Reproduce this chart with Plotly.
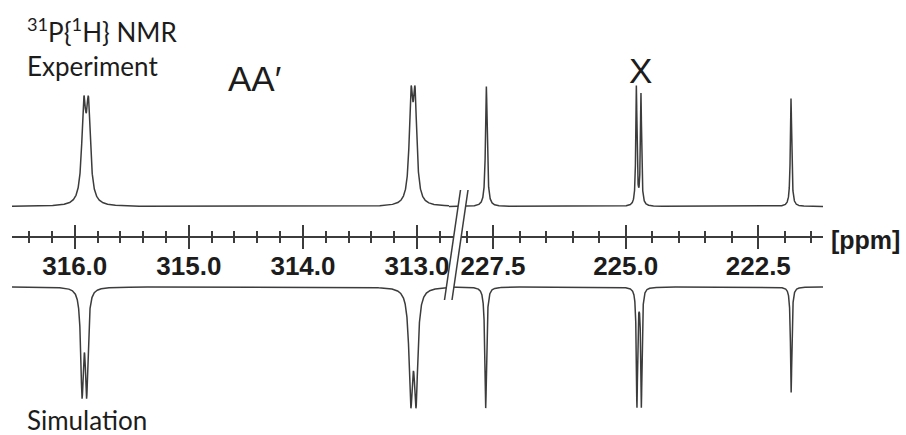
import numpy as np
import plotly.graph_objects as go

W, H = 906, 435

# --- peak tables (ppm, relative height, half width at half height in ppm) ---
# experimental 31P{1H} spectrum, AA' part (left window) and X part (right window)
exp_ppm_left = [315.921, 315.880, 313.053, 313.018]
exp_int_left = [0.76, 0.76, 0.82, 0.82]
exp_hw_left = [0.021, 0.021, 0.0186, 0.0186]

exp_ppm_right = [227.626, 224.798, 224.711, 221.883]
exp_int_right = [1.00, 0.99, 0.925, 0.90]
exp_hw_right = [0.019, 0.013, 0.013, 0.015]

# simulated spectrum (plotted downwards)
sim_ppm_left = [315.936, 315.896, 313.055, 313.009]
sim_int_left = [0.84, 0.84, 0.885, 0.885]
sim_hw_left = [0.0139, 0.0139, 0.0186, 0.0186]

sim_ppm_right = [227.638, 224.787, 224.704, 221.880]
sim_int_right = [1.01, 0.98, 0.98, 0.88]
sim_hw_right = [0.019, 0.0142, 0.0142, 0.015]

# axis windows (ppm) and ticks
left_range = [316.55, 312.72]
right_range = [228.33, 221.28]
left_major = [316.0, 315.0, 314.0, 313.0]
right_major = [227.5, 225.0, 222.5]
left_minor_step = 0.2
right_minor_step = 0.5

exp_offset = 0.25    # baseline of the experimental trace
sim_offset = -0.42   # baseline of the simulated trace
y_range = [-1.654, 1.971]

LINE = "#3c3c3c"
TEXT = "#1c1c1c"


def lorentz_sum(x, centers, heights, widths):
    y = np.zeros_like(x)
    for c, h, g in zip(centers, heights, widths):
        y += h / (1.0 + ((x - c) / g) ** 2)
    return y


def px(x):
    return x / W


def py(y):
    return 1 - y / H


xl = np.linspace(left_range[0], left_range[1], 6000)
xr = np.linspace(right_range[0], right_range[1], 9000)

fig = go.Figure()
line = dict(color=LINE, width=1.5)

fig.add_trace(go.Scatter(x=xl, y=exp_offset + lorentz_sum(xl, exp_ppm_left, exp_int_left, exp_hw_left),
                         mode="lines", line=line, xaxis="x", yaxis="y", hoverinfo="skip"))
fig.add_trace(go.Scatter(x=xl, y=sim_offset - lorentz_sum(xl, sim_ppm_left, sim_int_left, sim_hw_left),
                         mode="lines", line=line, xaxis="x", yaxis="y", hoverinfo="skip"))
fig.add_trace(go.Scatter(x=xr, y=exp_offset + lorentz_sum(xr, exp_ppm_right, exp_int_right, exp_hw_right),
                         mode="lines", line=line, xaxis="x2", yaxis="y", hoverinfo="skip"))
fig.add_trace(go.Scatter(x=xr, y=sim_offset - lorentz_sum(xr, sim_ppm_right, sim_int_right, sim_hw_right),
                         mode="lines", line=line, xaxis="x2", yaxis="y", hoverinfo="skip"))
# empty traces so the overlaid tick axes (upward ticks) get drawn
fig.add_trace(go.Scatter(x=[], y=[], xaxis="x3", yaxis="y", showlegend=False))
fig.add_trace(go.Scatter(x=[], y=[], xaxis="x4", yaxis="y", showlegend=False))

axis_y = 236.5
axis_pos = py(axis_y)
break_px = 449
left_dom = [px(12), px(break_px)]
right_dom = [px(break_px), px(823)]

tickfont = dict(family="Liberation Sans, Arial, sans-serif", size=26, color=TEXT, weight="bold")


def tick_axis(domain, rng, tick0, dtick, minor_step, ticks, labels, overlay=None, line_on=True):
    ax = dict(domain=domain, range=rng, anchor="free", position=axis_pos,
              showgrid=False, zeroline=False, showline=line_on, linecolor=LINE, linewidth=1.5,
              ticks=ticks, ticklen=12, tickwidth=1.5, tickcolor=LINE,
              tickmode="linear", tick0=tick0, dtick=dtick, tickformat=".1f",
              showticklabels=labels, tickfont=tickfont, ticklabelstandoff=-5,
              minor=dict(ticks=ticks, ticklen=5.5, tickwidth=1.5, tickcolor=LINE,
                         tick0=tick0, dtick=minor_step, showgrid=False),
              fixedrange=True)
    if overlay:
        ax["overlaying"] = overlay
    return ax


fig.update_layout(
    width=W, height=H, margin=dict(l=0, r=0, t=0, b=0),
    paper_bgcolor="white", plot_bgcolor="white", showlegend=False,
    xaxis=tick_axis(left_dom, left_range, left_major[0], 1.0, left_minor_step, "outside", True),
    xaxis2=tick_axis(right_dom, right_range, right_major[1], 2.5, right_minor_step, "outside", True),
    xaxis3=tick_axis(left_dom, left_range, left_major[0], 1.0, left_minor_step, "inside", False,
                     overlay="x", line_on=False),
    xaxis4=tick_axis(right_dom, right_range, right_major[1], 2.5, right_minor_step, "inside", False,
                     overlay="x2", line_on=False),
    yaxis=dict(domain=[0, 1], range=y_range, visible=False, fixedrange=True),
)

# axis break: white gap bounded by two slanted strokes
ax0, ay0, ax1, ay1 = 460.5, 190, 444.5, 300
gap = 7.5
fig.add_shape(type="path", xref="paper", yref="paper",
              path=f"M {px(ax0)} {py(ay0)} L {px(ax0 + gap)} {py(ay0)} L {px(ax1 + gap)} {py(ay1)} L {px(ax1)} {py(ay1)} Z",
              fillcolor="white", line=dict(width=0), layer="above")
for dx in (0, gap):
    fig.add_shape(type="line", xref="paper", yref="paper",
                  x0=px(ax0 + dx), y0=py(ay0), x1=px(ax1 + dx), y1=py(ay1),
                  line=dict(color=LINE, width=1.5), layer="above")

label_font = dict(family="Lato, Open Sans, sans-serif", size=26, color=TEXT)
big_font = dict(family="Liberation Sans, Arial, sans-serif", size=35, color=TEXT)

fig.add_annotation(x=px(25), y=py(31), xref="paper", yref="paper", xanchor="left", yanchor="middle",
                   text="<sup>31</sup>P{<sup>1</sup>H} NMR", showarrow=False, font=label_font)
fig.add_annotation(x=px(25), y=py(66), xref="paper", yref="paper", xanchor="left", yanchor="middle",
                   text="Experiment", showarrow=False, font=label_font)
fig.add_annotation(x=px(25), y=py(420), xref="paper", yref="paper", xanchor="left", yanchor="middle",
                   text="Simulation", showarrow=False, font=label_font)
fig.add_annotation(x=px(254), y=py(78), xref="paper", yref="paper", xanchor="center", yanchor="middle",
                   text="AA\u2032", showarrow=False, font=big_font)
fig.add_annotation(x=px(640), y=py(70), xref="paper", yref="paper", xanchor="center", yanchor="middle",
                   text="X", showarrow=False, font=big_font)
fig.add_annotation(x=px(829), y=py(240), xref="paper", yref="paper", xanchor="left", yanchor="middle",
                   text="[ppm]", showarrow=False,
                   font=dict(family="Liberation Sans, Arial, sans-serif", size=25, color=TEXT, weight="bold"))

fig.write_html("out.html")
